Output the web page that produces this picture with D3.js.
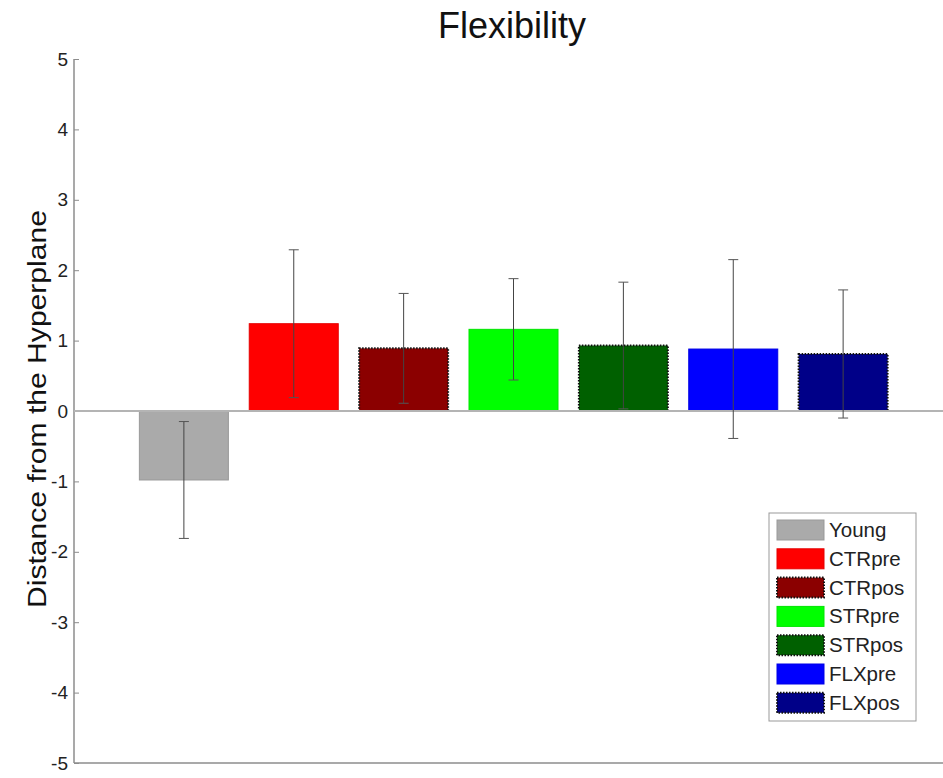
<!DOCTYPE html>
<html>
<head>
<meta charset="utf-8">
<script src="https://cdn.jsdelivr.net/npm/d3@7"></script>
<style>
  html, body { margin: 0; padding: 0; background: #fff; }
  svg { display: block; font-family: Arial, "Liberation Sans", sans-serif; }
</style>
</head>
<body>
<svg id="chart" width="943" height="778"></svg>
<script>
// ---- data ----
const categories = ["Young", "CTRpre", "CTRpos", "STRpre", "STRpos", "FLXpre", "FLXpos"];
const means      = [-0.98, 1.24, 0.89, 1.16, 0.93, 0.88, 0.81];
const errors     = [0.83, 1.05, 0.78, 0.72, 0.90, 1.27, 0.91];
const colors     = ["#aaaaaa", "#ff0000", "#8b0000", "#00ff00", "#006000", "#0000ff", "#000088"];
const dotted     = [false, false, true, false, true, false, true];
const yTicks     = [-5, -4, -3, -2, -1, 0, 1, 2, 3, 4, 5];
const titleText  = "Flexibility";
const yLabelText = "Distance from the Hyperplane";

// ---- layout ----
const svg = d3.select("#chart");
const mLeft = 74, mTop = 59, mBottom = 763;
const x = d3.scaleLinear().domain([0, categories.length + 1]).range([mLeft, 953]);
const y = d3.scaleLinear().domain([-5, 5]).range([mBottom, mTop]);
const barW = (x(1) - x(0)) * 0.81;

// axes lines
svg.append("line").attr("x1", mLeft).attr("x2", 943).attr("y1", mBottom).attr("y2", mBottom)
  .attr("stroke", "#8c8c8c").attr("stroke-width", 1.5);
svg.append("line").attr("x1", mLeft).attr("x2", mLeft).attr("y1", mTop).attr("y2", mBottom)
  .attr("stroke", "#8c8c8c").attr("stroke-width", 1.5);

// y axis ticks
const yAxis = d3.axisLeft(y).tickValues(yTicks).tickSize(-5).tickPadding(8).tickFormat(d => String(d));
const gy = svg.append("g").attr("transform", `translate(${mLeft},0)`).call(yAxis);
gy.select(".domain").remove();
gy.selectAll(".tick line").attr("stroke", "#8c8c8c");
gy.selectAll(".tick text").attr("font-size", 19).attr("fill", "#222")
  .attr("font-family", "Arial, 'Liberation Sans', sans-serif")
  .attr("x", -6);

// bars
const idx = d3.range(categories.length);
svg.selectAll("rect.bar").data(idx).enter().append("rect")
  .attr("class", "bar")
  .attr("x", i => x(i + 1) - barW / 2)
  .attr("width", barW)
  .attr("y", i => y(Math.max(0, means[i])))
  .attr("height", i => Math.abs(y(means[i]) - y(0)))
  .attr("fill", i => colors[i])
  .attr("stroke", i => dotted[i] ? "#111" : d3.color(colors[i]).darker(0.3))
  .attr("stroke-width", i => dotted[i] ? 2 : 1)
  .attr("stroke-dasharray", i => dotted[i] ? "1.5,1.5" : null);

// zero line
svg.append("line").attr("x1", mLeft).attr("x2", 943).attr("y1", y(0)).attr("y2", y(0))
  .attr("stroke", "#b4b4b4").attr("stroke-width", 2);

// error bars
const eg = svg.selectAll("g.err").data(idx).enter().append("g").attr("class", "err");
eg.append("line")
  .attr("x1", i => x(i + 1)).attr("x2", i => x(i + 1))
  .attr("y1", i => y(means[i] - errors[i])).attr("y2", i => y(means[i] + errors[i]))
  .attr("stroke", "#444").attr("stroke-width", 1);
[-1, 1].forEach(s => {
  eg.append("line")
    .attr("x1", i => x(i + 1) - 5).attr("x2", i => x(i + 1) + 5)
    .attr("y1", i => y(means[i] + s * errors[i])).attr("y2", i => y(means[i] + s * errors[i]))
    .attr("stroke", "#555").attr("stroke-width", 1);
});

// title
svg.append("text").attr("x", 512).attr("y", 38).attr("text-anchor", "middle")
  .attr("font-size", 36).attr("fill", "#111").text(titleText);

// y label
svg.append("text").attr("transform", `translate(46,409) rotate(-90)`)
  .attr("text-anchor", "middle").attr("font-size", 26).attr("fill", "#111")
  .attr("textLength", 398).attr("lengthAdjust", "spacingAndGlyphs")
  .text(yLabelText);

// legend
const lg = svg.append("g").attr("transform", "translate(769,513)");
lg.append("rect").attr("x", 0).attr("y", 0).attr("width", 147).attr("height", 208)
  .attr("fill", "#fff").attr("stroke", "#999").attr("stroke-width", 1);
const items = lg.selectAll("g.item").data(idx).enter().append("g").attr("class", "item")
  .attr("transform", i => `translate(8,${7 + i * 28.8})`);
items.append("rect").attr("width", 47).attr("height", 20)
  .attr("fill", i => colors[i])
  .attr("stroke", i => dotted[i] ? "#111" : d3.color(colors[i]).darker(0.3))
  .attr("stroke-width", i => dotted[i] ? 2 : 1)
  .attr("stroke-dasharray", i => dotted[i] ? "1.5,1.5" : null);
items.append("text").attr("x", 52).attr("y", 17).attr("font-size", 20.5).attr("fill", "#222")
  .text(i => categories[i]);
</script>
</body>
</html>
